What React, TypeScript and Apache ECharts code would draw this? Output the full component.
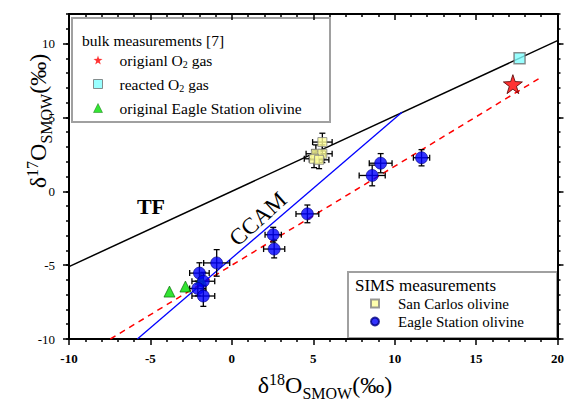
import React, { useEffect, useRef } from "react";
import * as echarts from "echarts";

const SERIF = "Liberation Serif, serif";

// axis ranges and tick labels
const xRange = [-10, 20];
const yRange = [-10, 12];
const yMajorTicks = [-10, -5, 0, 5, 10];

// reference lines (endpoints)
const tfLine = [[-10, -5.1], [20, 10.2]];
const ccamLine = [[-5.8, -10], [10.45, 5.35]];
const fitLine = [[-7.46, -10], [19.0, 7.72]];

// bulk measurements [7]
const o2Original = [[17.26, 7.25]];
const o2Reacted = [[17.67, 9.0]];
const eagleBulk = [[-3.83, -6.79], [-2.85, -6.45], [-1.9, -5.95]];

// SIMS measurements: [x, y, xErr, yErr]
const sanCarlos = [
  [5.56, 3.33, 0.6, 0.6],
  [5.16, 2.54, 0.6, 0.6],
  [5.56, 2.54, 0.6, 0.6],
  [5.05, 2.2, 0.6, 0.6],
  [5.36, 2.13, 0.6, 0.6],
];
const eagleSims = [
  [9.14, 1.9, 0.7, 0.65],
  [8.62, 1.07, 0.8, 0.7],
  [11.65, 2.27, 0.5, 0.55],
  [4.64, -1.53, 0.7, 0.6],
  [2.54, -2.94, 0.5, 0.5],
  [2.6, -3.91, 0.65, 0.6],
  [-0.93, -4.85, 0.8, 0.9],
  [-1.99, -5.54, 0.6, 0.7],
  [-1.75, -6.09, 0.7, 0.6],
  [-2.09, -6.58, 0.5, 0.5],
  [-1.75, -7.09, 0.7, 0.7],
];

const names = {
  o2o: "origianl O2 gas",
  o2r: "reacted O2 gas",
  esb: "original Eagle Station olivine",
  sc: "San Carlos olivine",
  es: "Eagle Station olivine",
};

const STAR = "path://M50,0 L61.8,36.2 L100,38.2 L69.1,61.8 L80.9,100 L50,76.4 L19.1,100 L30.9,61.8 L0,38.2 L38.2,36.2 Z";

const errRender = (params: any, api: any) => {
  const x = api.value(0), y = api.value(1), ex = api.value(2), ey = api.value(3);
  const l = api.coord([x - ex, y]);
  const r = api.coord([x + ex, y]);
  const t = api.coord([x, y + ey]);
  const b = api.coord([x, y - ey]);
  const cap = 3;
  const st = { stroke: "#000", lineWidth: 1.3 };
  const ln = (x1: number, y1: number, x2: number, y2: number) => ({
    type: "line",
    shape: { x1, y1, x2, y2 },
    style: st,
  });
  return {
    type: "group",
    children: [
      ln(l[0], l[1], r[0], r[1]),
      ln(t[0], t[1], b[0], b[1]),
      ln(l[0], l[1] - cap, l[0], l[1] + cap),
      ln(r[0], r[1] - cap, r[0], r[1] + cap),
      ln(t[0] - cap, t[1], t[0] + cap, t[1]),
      ln(b[0] - cap, b[1], b[0] + cap, b[1]),
    ],
  };
};

const titleRich = {
  m: { fontSize: 24, fontFamily: SERIF, fill: "#000", lineHeight: 34 },
  sup: { fontSize: 16, fontFamily: SERIF, fill: "#000", lineHeight: 34, height: 22, verticalAlign: "top" },
  sub: { fontSize: 16, fontFamily: SERIF, fill: "#000", lineHeight: 34, height: 18, verticalAlign: "bottom" },
};

const baseX = {
  type: "value",
  min: xRange[0],
  max: xRange[1],
  interval: 5,
  splitLine: { show: false },
  minorSplitLine: { show: false },
};
const baseY = {
  type: "value",
  min: yRange[0],
  max: yRange[1],
  interval: 1,
  splitLine: { show: false },
  minorSplitLine: { show: false },
};
const lineBlack = { color: "#000", width: 2 };
const tickBlack = { color: "#000", width: 1.5 };

const option: any = {
  animation: false,
  grid: { left: 69, right: 8, top: 14, bottom: 61 },
  xAxis: [
    {
      ...baseX,
      position: "bottom",
      axisLine: { onZero: false, lineStyle: lineBlack },
      axisTick: { inside: false, length: 6, lineStyle: tickBlack },
      minorTick: { show: true, splitNumber: 5, length: 3, lineStyle: tickBlack },
      axisLabel: { color: "#000", fontFamily: SERIF, fontSize: 13, fontWeight: "bold", margin: 13 },
    },
    {
      ...baseX,
      position: "top",
      axisLine: { onZero: false, lineStyle: lineBlack },
      axisTick: { inside: true, length: 6, lineStyle: tickBlack },
      minorTick: { show: true, splitNumber: 5, length: 3, lineStyle: tickBlack },
      axisLabel: { show: false },
    },
  ],
  yAxis: [
    {
      ...baseY,
      position: "left",
      axisLine: { onZero: false, lineStyle: lineBlack },
      axisTick: { inside: false, length: 3, lineStyle: tickBlack },
      axisLabel: { customValues: yMajorTicks, color: "#000", fontFamily: SERIF, fontSize: 13, margin: 14 },
    },
    {
      ...baseY,
      position: "left",
      axisLine: { show: false, onZero: false },
      axisTick: { customValues: yMajorTicks, inside: false, length: 6, lineStyle: tickBlack },
      axisLabel: { show: false },
    },
    {
      ...baseY,
      position: "right",
      axisLine: { onZero: false, lineStyle: lineBlack },
      axisTick: { inside: false, length: 3, lineStyle: tickBlack },
      axisLabel: { show: false },
    },
    {
      ...baseY,
      position: "right",
      axisLine: { show: false, onZero: false },
      axisTick: { customValues: yMajorTicks, inside: false, length: 6, lineStyle: tickBlack },
      axisLabel: { show: false },
    },
  ],
  legend: [
    {
      orient: "vertical",
      left: 93,
      top: 50,
      padding: 0,
      itemWidth: 9,
      itemHeight: 9,
      itemGap: 4,
      selectedMode: false,
      data: [
        { name: names.o2o, icon: STAR, itemStyle: { color: "#ff0000", borderWidth: 0 } },
        { name: names.o2r, itemStyle: { borderWidth: 1 } },
        { name: names.esb, itemStyle: { borderWidth: 0.5 } },
      ],
      formatter: (n: string) =>
        n === names.o2o
          ? "{n|origianl O}{s|2}{n| gas}"
          : n === names.o2r
          ? "{n|reacted O}{s|2}{n| gas}"
          : "{n|" + n + "}",
      textStyle: {
        color: "#000",
        fontFamily: SERIF,
        fontSize: 15.5,
        lineHeight: 20,
        padding: [0, 0, 0, 12],
        rich: {
          n: { color: "#000", fontFamily: SERIF, fontSize: 15.5, lineHeight: 20 },
          s: { color: "#000", fontFamily: SERIF, fontSize: 10, lineHeight: 20, height: 11, verticalAlign: "bottom" },
        },
      },
    },
    {
      orient: "vertical",
      left: 370,
      top: 295.5,
      padding: 0,
      itemWidth: 8,
      itemHeight: 8,
      itemGap: 2,
      selectedMode: false,
      data: [names.sc, names.es],
      textStyle: {
        color: "#000",
        fontFamily: SERIF,
        fontSize: 15,
        lineHeight: 16,
        padding: [0, 0, 0, 14],
      },
    },
  ],
  graphic: [
    { type: "rect", z: 0, shape: { x: 72, y: 18, width: 258, height: 104 }, style: { fill: "#fff", stroke: "#a0a0a0", lineWidth: 2 } },
    { type: "rect", z: 0, shape: { x: 348, y: 272, width: 209, height: 66 }, style: { fill: "#fff", stroke: "#a0a0a0", lineWidth: 2 } },
    { type: "text", z: 5, x: 82, y: 40, style: { text: "bulk measurements [7]", fontSize: 15.5, fontFamily: SERIF, fill: "#000", verticalAlign: "middle" } },
    { type: "text", z: 5, x: 355, y: 285, style: { text: "SIMS measurements", fontSize: 17, fontFamily: SERIF, fill: "#000", verticalAlign: "middle" } },
    { type: "text", z: 5, x: 151, y: 206, style: { text: "TF", fontSize: 22, fontWeight: "bold", fontFamily: SERIF, fill: "#000", align: "center", verticalAlign: "middle" } },
    { type: "text", z: 5, x: 258, y: 219, rotation: (42 * Math.PI) / 180, style: { text: "CCAM", fontSize: 23, fontFamily: SERIF, fill: "#000", align: "center", verticalAlign: "middle" } },
    { type: "text", z: 5, x: 325, y: 385, style: { text: "{m|δ}{sup|18}{m|O}{sub|SMOW}{m|(‰)}", rich: titleRich, align: "center", verticalAlign: "middle" } },
    { type: "text", z: 5, x: 38, y: 121, rotation: Math.PI / 2, style: { text: "{m|δ}{sup|17}{m|O}{sub|SMOW}{m|(‰)}", rich: titleRich, align: "center", verticalAlign: "middle" } },
  ],
  series: [
    { type: "line", name: "TF", data: tfLine, showSymbol: false, symbol: "none", lineStyle: { color: "#000", width: 1.5 }, z: 2, silent: true },
    { type: "line", name: "CCAM", data: ccamLine, showSymbol: false, symbol: "none", lineStyle: { color: "#0000ff", width: 1.3 }, z: 2, silent: true },
    { type: "line", name: "fit", data: fitLine, showSymbol: false, symbol: "none", lineStyle: { color: "#ff0000", width: 1.5, type: [6, 5] }, z: 2, silent: true },
    { type: "custom", name: "scErr", data: sanCarlos, renderItem: errRender, encode: { x: 0, y: 1 }, z: 3, silent: true },
    { type: "custom", name: "esErr", data: eagleSims, renderItem: errRender, encode: { x: 0, y: 1 }, z: 3, silent: true },
    { type: "scatter", name: names.esb, data: eagleBulk, symbol: "triangle", symbolSize: 11, itemStyle: { color: "#00dd00", borderColor: "#006000", borderWidth: 0.8 }, z: 4 },
    { type: "scatter", name: names.sc, data: sanCarlos.map((d) => [d[0], d[1]]), symbol: "rect", symbolSize: 9, itemStyle: { color: "#ffff99", borderColor: "#808080", borderWidth: 1 }, z: 5 },
    { type: "scatter", name: names.es, data: eagleSims.map((d) => [d[0], d[1]]), symbol: "circle", symbolSize: 12, itemStyle: { color: "#0000ff", borderColor: "#000080", borderWidth: 0.8 }, z: 5 },
    { type: "scatter", name: names.o2r, data: o2Reacted, symbol: "rect", symbolSize: 11, itemStyle: { color: "#80ffff", borderColor: "#707070", borderWidth: 1.5 }, z: 5 },
    { type: "scatter", name: names.o2o, data: o2Original, symbol: STAR, symbolSize: 19, itemStyle: { color: "#ff0000", borderColor: "#500000", borderWidth: 1 }, z: 5 },
  ],
};

export default function App() {
  const ref = useRef<HTMLDivElement>(null);
  useEffect(() => {
    const chart = echarts.init(ref.current!, null, { renderer: "svg" });
    chart.setOption(option);
    return () => chart.dispose();
  }, []);
  return (
    <div
      ref={ref}
      style={{ position: "fixed", left: 0, top: 0, width: 567, height: 400, background: "#fff" }}
    />
  );
}
